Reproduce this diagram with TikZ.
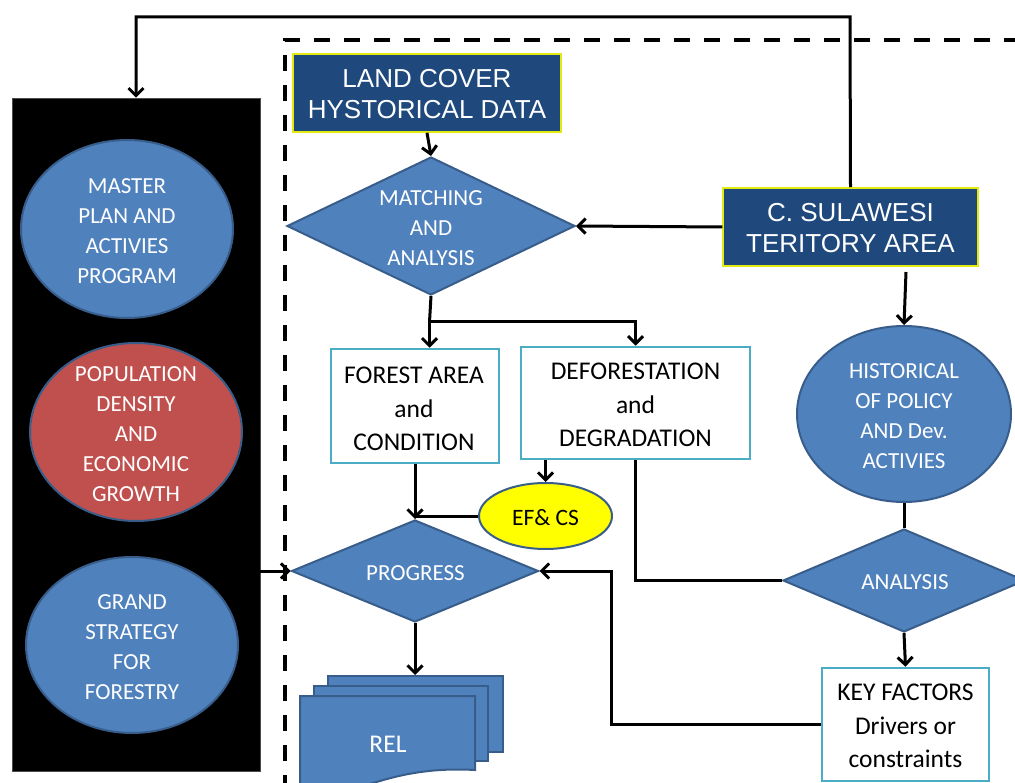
\documentclass[tikz,border=0pt]{standalone}
\usepackage{fontspec}
\setmainfont{Carlito}
\newfontfamily\arialfont{Liberation Sans}
\usetikzlibrary{arrows.meta,shapes.geometric,calc}
\definecolor{fillblue}{HTML}{4F81BD}
\definecolor{edgeblue}{HTML}{385D8A}
\definecolor{navy}{HTML}{1F497D}
\definecolor{brick}{HTML}{C0504D}
\definecolor{tealedge}{HTML}{4BACC6}
\definecolor{lemon}{HTML}{FFFF00}
\definecolor{titleedge}{HTML}{E2EA10}
\tikzset{
  conn/.style={line width=3pt, draw=black},
  arr/.style={conn, -{Straight Barb[length=7.5pt,width=15pt]}},
  frame/.style={line width=4pt, dash pattern=on 16pt off 14pt},
  blob/.style={ellipse, draw=edgeblue, line width=2pt, fill=fillblue, inner sep=0pt},
  rhomb/.style={diamond, draw=edgeblue, line width=2pt, fill=fillblue, inner sep=0pt},
  titlebox/.style={rectangle, draw=titleedge, line width=1.5pt, fill=navy, inner sep=0pt},
  plainbox/.style={rectangle, draw=tealedge, line width=2.5pt, fill=white, inner sep=0pt},
  doc/.style={draw=edgeblue, line width=2pt, fill=fillblue},
  wtext/.style={text=white, align=center, inner sep=0pt, font=\fontsize{23}{30}\selectfont},
  btext/.style={text=black, align=center, inner sep=0pt, font=\fontsize{25.5}{33.5}\selectfont},
  ttext/.style={text=white, align=center, inner sep=0pt, font=\arialfont\fontsize{26}{31}\selectfont},
}
\begin{document}
\begin{tikzpicture}[x=1pt, y=-1pt]
\useasboundingbox (0,0) rectangle (1015,783);
\clip (0,0) rectangle (1015,783);

% left panel with the three context ellipses
\node[fill=black, draw=black!70, line width=0.5pt, minimum width=248, minimum height=673, inner sep=0pt] (panel) at (136,434.5) {};
\node[blob, minimum width=212, minimum height=178] (master) at (127,229) {};
\node[wtext] (mastert) at (127,231) {MASTER\\PLAN AND\\ACTIVIES\\PROGRAM};
\node[blob, fill=brick, minimum width=212, minimum height=178] (popul) at (136,432) {};
\node[wtext] (popult) at (136,434) {POPULATION\\DENSITY\\AND\\ECONOMIC\\GROWTH};
\node[blob, minimum width=212, minimum height=176] (grand) at (132,645) {};
\node[wtext] (grandt) at (132,647) {GRAND\\STRATEGY\\FOR\\FORESTRY};

% dashed boundary of the analysis area
\coordinate (frameright) at (1020,40);
\coordinate (framecorner) at (285,40);
\coordinate (framebottom) at (285,790);
\draw[frame] (frameright) -- (framecorner) -- (framebottom);

% data sources
\node[titlebox, minimum width=268, minimum height=78] (landcover) at (427,93) {};
\node[ttext] (landcovert) at (427,94) {LAND COVER\\HYSTORICAL DATA};
\node[titlebox, minimum width=255, minimum height=78] (csul) at (850.5,227) {};
\node[ttext] (csult) at (850.5,228) {C. SULAWESI\\TERITORY AREA};

% decisions and processes
\node[rhomb, minimum width=288, minimum height=138] (match) at (431,226) {};
\node[wtext] (matcht) at (431,228) {MATCHING\\AND\\ANALYSIS};
\node[plainbox, minimum width=168, minimum height=114] (forest) at (415,406) {};
\node[btext] (forestt) at (414,409) {FOREST AREA\\and\\CONDITION};
\node[plainbox, minimum width=229, minimum height=112] (defor) at (635.5,403) {};
\node[btext] (defort) at (635.5,405) {DEFORESTATION\\and\\DEGRADATION};
\node[ellipse, draw=edgeblue, line width=2pt, fill=lemon, inner sep=0pt, minimum width=133, minimum height=66] (efcs) at (545.5,516) {};
\node[text=black, inner sep=0pt, font=\fontsize{23.5}{28}\selectfont] (efcst) at (545.5,518) {EF\& CS};
\node[rhomb, minimum width=247, minimum height=102] (progress) at (415,571) {};
\node[wtext] (progresst) at (415.5,573) {PROGRESS};

\node[blob, minimum width=214, minimum height=176] (hist) at (904,414) {};
\node[wtext] (histt) at (904,416) {HISTORICAL\\OF POLICY\\AND Dev.\\ACTIVIES};
\node[rhomb, minimum width=242, minimum height=103] (analysis) at (904,580.5) {};
\node[wtext] (analysist) at (905,582) {ANALYSIS};
\node[plainbox, minimum width=167, minimum height=113] (keyf) at (905.5,724.5) {};
\node[btext] (keyft) at (905.5,726) {KEY FACTORS\\Drivers or\\constraints};

% stacked documents for the reference emission level
\node[doc, rectangle, minimum width=175, minimum height=76, inner sep=0pt] (relback) at (415,714) {};
\node[doc, rectangle, minimum width=174, minimum height=75, inner sep=0pt] (relmid) at (401,723.5) {};
\filldraw[doc] (300,696) -- (475,696) -- (475,770)
  .. controls (440,768) and (410,772) .. (380,781)
  .. controls (350,790) and (325,795) .. (300,792) -- cycle;
\node[text=white, inner sep=0pt, font=\fontsize{25.5}{30}\selectfont] (relt) at (388,744) {REL};

% connectors
\coordinate (topline) at (850,17);
\draw[arr] (csul.north) -- (topline) -| (panel.north);
\draw[arr] (landcover.south) -- (match.north);
\draw[arr] (csul.west) -- (match.east);
\coordinate (split) at (429.5,322);
\draw[conn] (match.south) -- (split);
\draw[arr] (split) -- (split |- forest.north);
\draw[arr] (split) -| (defor.north);
\coordinate (csulout) at (906,272);
\draw[arr] (csulout) -- (hist.north);
\draw[conn] (hist.south) -- (analysis.north);
\draw[arr] (analysis.south) -- (keyf.north);
\draw[conn] (defor.south) |- (analysis.west);
\draw[arr] (efcs.north |- defor.south) -- (efcs.north);
\draw[arr] (forest.south) -- (progress.north);
\draw[conn] (efcs.west) -- (efcs.west -| progress.north);
\coordinate (kfbend) at (611,571);
\draw[arr] (keyf.west) -| (kfbend) -- (progress.east);
\draw[arr] (panel.east |- progress.west) -- (progress.west);
\draw[arr] (progress.south) -- (relback.north);
\end{tikzpicture}
\end{document}
